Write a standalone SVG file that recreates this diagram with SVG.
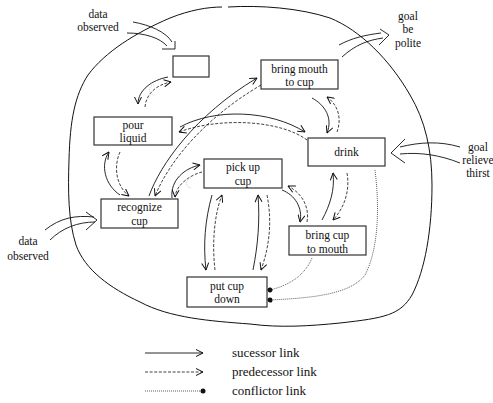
<svg xmlns="http://www.w3.org/2000/svg" width="493" height="403" viewBox="0 0 493 403">
<style>
  .box{fill:#fff;stroke:#333;stroke-width:1.2}
  text{font-family:'Liberation Serif','DejaVu Serif',serif;fill:#111}
  .t{font-size:11.5px;text-anchor:middle}
  .lt{font-size:13px}
  .s{fill:none;stroke:#111;stroke-width:0.9}
  .d{fill:none;stroke:#111;stroke-width:0.8;stroke-dasharray:3 1.6}
  .o{fill:none;stroke:#333;stroke-width:0.8;stroke-dasharray:1 1}
  .blob{fill:none;stroke:#111;stroke-width:1}
  .faint{fill:none;stroke:#bbb;stroke-width:0.8;stroke-dasharray:1 1}
</style>
<defs>
  <marker id="ah" viewBox="0 0 8 8" refX="7.5" refY="4" markerWidth="8" markerHeight="8" markerUnits="userSpaceOnUse" orient="auto">
    <path d="M0.5,0.5 L7.5,4 L0.5,7.5" fill="none" stroke="#111" stroke-width="1"/>
  </marker>
  <marker id="dot" viewBox="0 0 6 6" refX="3" refY="3" markerWidth="6" markerHeight="6" markerUnits="userSpaceOnUse" orient="auto">
    <circle cx="3" cy="3" r="2.5" fill="#111"/>
  </marker>
</defs>

<g id="boundary">
  <path class="blob" d="M228,7 C260,5 300,8 330,18 C360,30 390,60 410,95 C425,120 432,150 432,185 C432,230 425,270 412,295 C400,315 385,318 340,323 C310,326 280,328 250,324 C210,321 170,318 140,302 C110,288 85,270 76,245 C68,220 68,190 69,160 C70,120 75,95 88,75 C105,52 135,33 170,18 C190,10 208,7 222,7"/>
</g>

<g id="node-empty"><rect class="box" x="173" y="56" width="36" height="21"/></g>
<g id="node-bring-mouth"><rect class="box" x="261" y="60" width="77" height="29"/><text class="t" x="299.5" y="72.5">bring mouth</text><text class="t" x="299.5" y="86">to cup</text></g>
<g id="node-pour"><rect class="box" x="94" y="117" width="78" height="28"/><text class="t" x="133" y="129">pour</text><text class="t" x="133" y="142">liquid</text></g>
<g id="node-drink"><rect class="box" x="308" y="138" width="77" height="28"/><text class="t" x="346.5" y="156">drink</text></g>
<g id="node-pickup"><rect class="box" x="204" y="159" width="78" height="29"/><text class="t" x="243" y="171">pick up</text><text class="t" x="243" y="185">cup</text></g>
<g id="node-recognize"><rect class="box" x="101" y="199" width="77" height="29"/><text class="t" x="139.5" y="211">recognize</text><text class="t" x="139.5" y="225">cup</text></g>
<g id="node-bring-cup"><rect class="box" x="289" y="226" width="77" height="29"/><text class="t" x="327.5" y="239">bring cup</text><text class="t" x="327.5" y="253">to mouth</text></g>
<g id="node-putdown"><rect class="box" x="187" y="277" width="80" height="30"/><text class="t" x="227" y="290">put cup</text><text class="t" x="227" y="303">down</text></g>

<g id="inputs">
  <text class="t" x="98" y="18">data</text><text class="t" x="98" y="31">observed</text>
  <path class="s" d="M133,22 C150,25 166,32 172,42"/>
  <path class="s" d="M127,33 C145,33 160,38 167,46"/>
  <path class="s" d="M162,49 L175,49 L175,41"/>

  <text class="t" x="408" y="20">goal</text><text class="t" x="408" y="33">be</text><text class="t" x="408" y="47">polite</text>
  <path class="s" d="M339,45 C352,38 365,35 381,33"/>
  <path class="s" d="M342,57 C355,45 368,40 383,38"/>
  <path class="s" d="M380,29 L389,35 L379,45"/>

  <text class="t" x="478" y="151">goal</text><text class="t" x="478" y="164">relieve</text><text class="t" x="478" y="177">thirst</text>
  <path class="s" d="M460,147 C440,141 420,142 400,147"/>
  <path class="s" d="M460,163 C440,155 420,152 400,154"/>
  <path class="s" d="M405,139 L391,153 L405,163"/>

  <text class="t" x="28" y="245">data</text><text class="t" x="28" y="260">observed</text>
  <path class="s" d="M45,230 C60,218 75,215 94,217"/>
  <path class="s" d="M50,240 C62,228 78,222 95,222"/>
  <path class="s" d="M86,212 L97,220 L86,230"/>
</g>

<g id="connectors">
  <path class="s" marker-end="url(#ah)" d="M168,77 C152,80 138,90 138,104"/>
  <path class="d" marker-end="url(#ah)" d="M145,107 C146,95 155,85 171,82"/>

  <path class="s" marker-end="url(#ah)" d="M120,195 C105,185 100,165 109,152"/>
  <path class="d" marker-end="url(#ah)" d="M120,152 C114,165 115,185 129,196"/>

  <path class="s" marker-end="url(#ah)" d="M149,196 C160,165 195,115 257,78"/>
  <path class="d" marker-end="url(#ah)" d="M261,85 C205,118 170,160 155,196"/>

  <path class="s" marker-end="url(#ah)" d="M180,127 C215,108 270,110 305,132"/>
  <path class="d" marker-end="url(#ah)" d="M307,140 C280,120 220,117 179,132"/>

  <path class="s" marker-end="url(#ah)" d="M312,98 C325,105 333,118 327,133"/>
  <path class="d" marker-end="url(#ah)" d="M337,132 C342,118 338,105 327,97"/>

  <path class="s" marker-end="url(#ah)" d="M172,198 C170,180 185,168 200,165"/>
  <path class="d" marker-end="url(#ah)" d="M202,172 C190,175 176,185 175,197"/>

  <path class="s" marker-end="url(#ah)" d="M212,195 C205,220 203,245 206,270"/>
  <path class="d" marker-end="url(#ah)" d="M215,270 C212,245 214,215 222,195"/>

  <path class="s" marker-end="url(#ah)" d="M253,270 C258,245 260,220 258,195"/>
  <path class="d" marker-end="url(#ah)" d="M267,195 C272,220 270,245 261,270"/>

  <path class="s" marker-end="url(#ah)" d="M282,190 C295,195 303,208 300,222"/>
  <path class="d" marker-end="url(#ah)" d="M307,222 C310,205 300,192 288,186"/>

  <path class="s" marker-end="url(#ah)" d="M322,220 C330,205 335,190 333,173"/>
  <path class="d" marker-end="url(#ah)" d="M347,173 C350,190 345,207 333,220"/>

  <path class="o" marker-end="url(#dot)" d="M312,258 C305,275 290,285 270,290"/>
  <path class="o" marker-end="url(#dot)" d="M375,170 C380,210 378,250 365,275 C350,295 310,298 270,300"/>

  <path class="faint" d="M154,85 A4.5,5 0 1 0 154,95"/>
  <path class="faint" d="M191,178 A4.5,5 0 1 0 191,188"/>
</g>

<g id="legend">
  <path class="s" marker-end="url(#ah)" d="M145,353 L203,353"/>
  <text class="lt" x="232" y="357">sucessor link</text>
  <path class="d" marker-end="url(#ah)" d="M145,372 L203,372"/>
  <text class="lt" x="232" y="376">predecessor link</text>
  <path class="o" marker-end="url(#dot)" d="M145,391 L203,391"/>
  <text class="lt" x="232" y="395">conflictor link</text>
</g>
</svg>
